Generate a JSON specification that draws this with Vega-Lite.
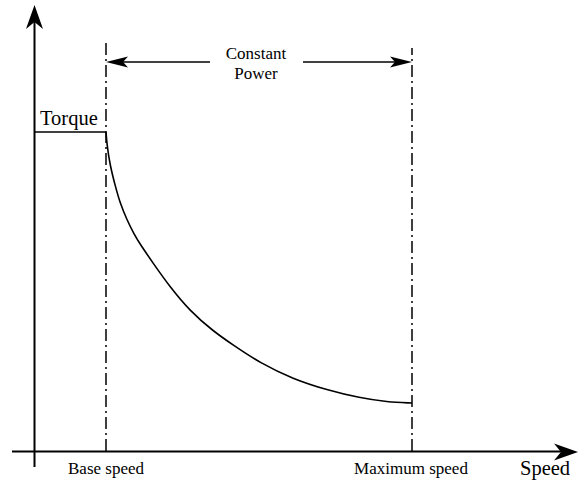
{
  "$schema": "https://vega.github.io/schema/vega-lite/v6.json",
  "width": 583,
  "height": 486,
  "autosize": {"type": "fit", "contains": "padding"},
  "padding": 0,
  "background": "white",
  "config": {"view": {"stroke": null}},
  "datasets": {
    "axes": [
      {"name": "torque axis", "x1": -0.5, "x2": -0.5, "y1": -16, "y2": 440},
      {"name": "speed axis", "x1": -23, "x2": 535, "y1": -0.5, "y2": -0.5}
    ],
    "thin": [
      {"name": "rated torque", "x1": 0, "x2": 71, "y1": 319, "y2": 319},
      {"name": "cp left", "x1": 75, "x2": 175, "y1": 389, "y2": 389},
      {"name": "cp right", "x1": 268, "x2": 372, "y1": 389, "y2": 389}
    ],
    "limits": [
      {"name": "base speed", "x1": 71, "x2": 71, "y1": 0, "y2": 408},
      {"name": "maximum speed", "x1": 377, "x2": 377, "y1": 0, "y2": 403}
    ],
    "curve": [
      {"speed": 71, "torque": 319},
      {"speed": 72, "torque": 306},
      {"speed": 75, "torque": 286},
      {"speed": 80, "torque": 266},
      {"speed": 85, "torque": 248},
      {"speed": 92, "torque": 231},
      {"speed": 99, "torque": 217},
      {"speed": 105, "torque": 207},
      {"speed": 118, "torque": 188},
      {"speed": 135, "torque": 164},
      {"speed": 155, "torque": 140},
      {"speed": 178, "torque": 120},
      {"speed": 198, "torque": 106},
      {"speed": 225, "torque": 88},
      {"speed": 258, "torque": 72},
      {"speed": 292, "torque": 61},
      {"speed": 325, "torque": 53},
      {"speed": 352, "torque": 49},
      {"speed": 377, "torque": 48}
    ],
    "arrowUp": [{"speed": -0.5, "torque": 434}],
    "arrowRight": [{"speed": 531, "torque": -1}],
    "cpLeft": [{"speed": 82, "torque": 389}],
    "cpRight": [{"speed": 366, "torque": 389}],
    "labelsSmall": [
      {"label": "Constant", "speed": 221, "torque": 392},
      {"label": "Power", "speed": 221, "torque": 372},
      {"label": "Base speed", "speed": 71, "torque": -23},
      {"label": "Maximum speed", "speed": 376, "torque": -23}
    ],
    "labelsBig": [
      {"label": "Torque", "speed": 5, "torque": 326},
      {"label": "Speed", "speed": 485, "torque": -24}
    ]
  },
  "layer": [
    {
      "data": {"name": "axes"},
      "mark": {"type": "rule", "color": "black", "strokeWidth": 2},
      "encoding": {
        "x": {"field": "x1", "type": "quantitative", "scale": {"domain": [-35, 548], "nice": false, "zero": false}, "axis": null},
        "x2": {"field": "x2"},
        "y": {"field": "y1", "type": "quantitative", "scale": {"domain": [-35, 451], "nice": false, "zero": false}, "axis": null},
        "y2": {"field": "y2"}
      }
    },
    {
      "data": {"name": "thin"},
      "mark": {"type": "rule", "color": "black", "strokeWidth": 1.6},
      "encoding": {
        "x": {"field": "x1", "type": "quantitative"},
        "x2": {"field": "x2"},
        "y": {"field": "y1", "type": "quantitative"},
        "y2": {"field": "y2"}
      }
    },
    {
      "data": {"name": "limits"},
      "mark": {"type": "rule", "color": "black", "strokeWidth": 1.5, "strokeDash": [12, 4, 2, 4]},
      "encoding": {
        "x": {"field": "x1", "type": "quantitative"},
        "x2": {"field": "x2"},
        "y": {"field": "y1", "type": "quantitative"},
        "y2": {"field": "y2"}
      }
    },
    {
      "data": {"name": "curve"},
      "mark": {"type": "line", "color": "black", "strokeWidth": 1.6, "interpolate": "basis"},
      "encoding": {
        "x": {"field": "speed", "type": "quantitative"},
        "y": {"field": "torque", "type": "quantitative"}
      }
    },
    {
      "data": {"name": "arrowUp"},
      "mark": {"type": "point", "filled": true, "color": "black", "opacity": 1, "strokeWidth": 0, "shape": "M0,-1L0.71,1L0,0.42L-0.71,1Z", "size": 576, "angle": 0},
      "encoding": {
        "x": {"field": "speed", "type": "quantitative"},
        "y": {"field": "torque", "type": "quantitative"}
      }
    },
    {
      "data": {"name": "arrowRight"},
      "mark": {"type": "point", "filled": true, "color": "black", "opacity": 1, "strokeWidth": 0, "shape": "M0,-1L0.71,1L0,0.42L-0.71,1Z", "size": 576, "angle": 90},
      "encoding": {
        "x": {"field": "speed", "type": "quantitative"},
        "y": {"field": "torque", "type": "quantitative"}
      }
    },
    {
      "data": {"name": "cpLeft"},
      "mark": {"type": "point", "filled": true, "color": "black", "opacity": 1, "strokeWidth": 0, "shape": "M0,-1L0.5,1L0,0.55L-0.5,1Z", "size": 484, "angle": 270},
      "encoding": {
        "x": {"field": "speed", "type": "quantitative"},
        "y": {"field": "torque", "type": "quantitative"}
      }
    },
    {
      "data": {"name": "cpRight"},
      "mark": {"type": "point", "filled": true, "color": "black", "opacity": 1, "strokeWidth": 0, "shape": "M0,-1L0.5,1L0,0.55L-0.5,1Z", "size": 484, "angle": 90},
      "encoding": {
        "x": {"field": "speed", "type": "quantitative"},
        "y": {"field": "torque", "type": "quantitative"}
      }
    },
    {
      "data": {"name": "labelsSmall"},
      "mark": {"type": "text", "font": "Liberation Serif", "fontSize": 17, "color": "black", "align": "center", "baseline": "alphabetic"},
      "encoding": {
        "x": {"field": "speed", "type": "quantitative"},
        "y": {"field": "torque", "type": "quantitative"},
        "text": {"field": "label"}
      }
    },
    {
      "data": {"name": "labelsBig"},
      "mark": {"type": "text", "font": "Liberation Serif", "fontSize": 20.5, "color": "black", "align": "left", "baseline": "alphabetic"},
      "encoding": {
        "x": {"field": "speed", "type": "quantitative"},
        "y": {"field": "torque", "type": "quantitative"},
        "text": {"field": "label"}
      }
    }
  ]
}
